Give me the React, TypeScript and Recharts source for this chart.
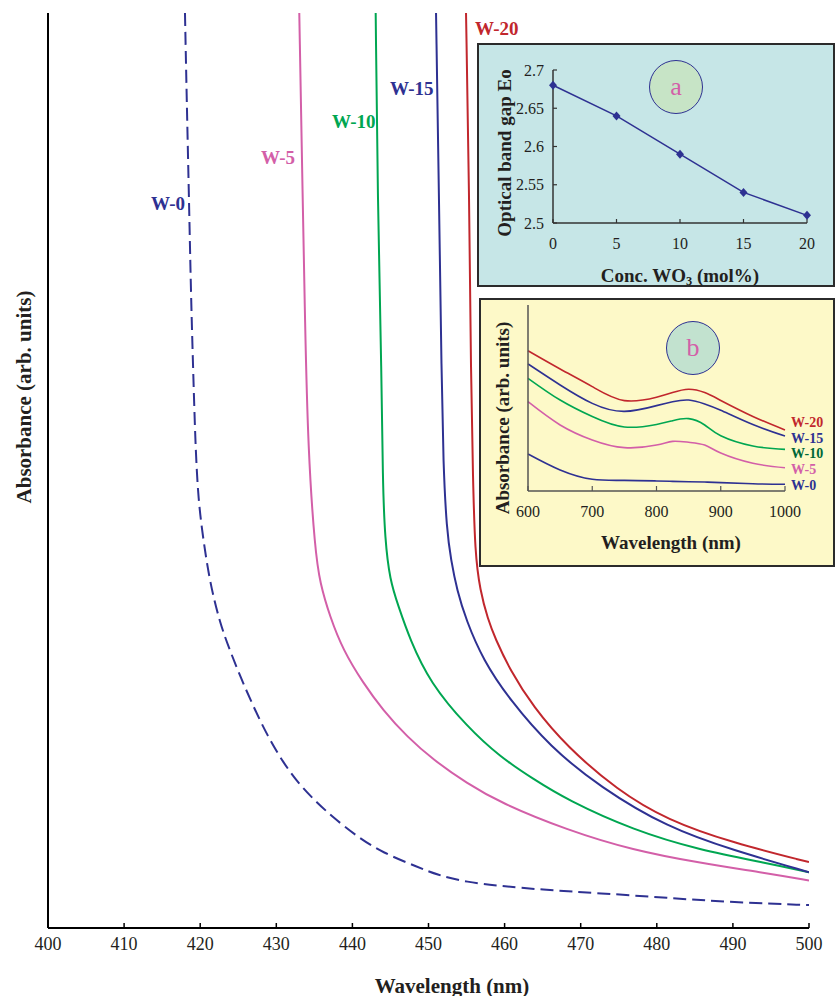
import { LineChart, Line, XAxis, YAxis } from "recharts";
import type { ReactNode } from "react";

const SERIF = "'Liberation Serif', 'Times New Roman', Times, serif";
const NAVY = "#2e3192";
const PINK = "#d35fa8";
const GREEN = "#00a651";
const DARK_GREEN = "#006838";
const RED = "#c1272d";
const INK = "#231f20";

// main panel: absorption edge, wavelength (nm) vs absorbance (arb. units)
const w0Wl = [418.0, 418.23, 418.53, 418.79, 419.19, 419.41, 419.75, 420.41, 421.29, 422.6, 423.92, 425.36, 426.94, 428.78, 430.88, 433.11, 435.35, 437.45, 440.6, 444.02, 448.49, 451.12, 455.06, 459.4, 464.65, 472.54, 481.34, 490.01, 500];
const w0Abs = [100, 90.5, 79.6, 69.0, 57.7, 52.2, 46.8, 42.4, 37.7, 33.3, 30.3, 27.3, 24.3, 21.1, 18.1, 15.6, 13.7, 12.1, 10.0, 8.2, 6.7, 5.8, 5.0, 4.6, 4.2, 3.8, 3.3, 2.8, 2.5];

const w5Wl = [433.02, 433.47, 433.77, 434.17, 435.09, 435.74, 437.06, 438.76, 441.39, 444.02, 447.18, 450.59, 455.06, 459.4, 468.2, 476.87, 485.68, 494.48, 500];
const w5Abs = [100, 79.6, 66.4, 52.2, 41.3, 37.7, 34.0, 30.4, 26.8, 23.8, 20.9, 18.4, 15.8, 13.7, 10.7, 8.5, 7.1, 6.0, 5.2];

const w10Wl = [443.06, 443.32, 443.85, 443.98, 444.28, 444.94, 445.99, 447.57, 450.2, 455.06, 459.4, 463.73, 468.2, 476.87, 485.68, 494.48, 500];
const w10Abs = [100, 79.6, 59.9, 49.0, 42.4, 38.0, 35.3, 31.5, 26.8, 22.0, 18.7, 16.3, 14.0, 10.7, 8.5, 7.1, 6.1];

const w15Wl = [450.99, 451.38, 451.73, 451.94, 452.39, 452.96, 453.75, 454.93, 457.16, 460.71, 465.97, 472.54, 481.34, 490.01, 500];
const w15Abs = [100, 79.6, 59.9, 50.8, 43.5, 40.2, 36.9, 33.7, 29.3, 24.9, 19.8, 15.4, 11.0, 8.5, 6.1];

const w20Wl = [454.93, 455.36, 455.58, 455.85, 456.11, 456.77, 457.82, 458.74, 460.71, 463.73, 468.2, 474.77, 481.34, 490.01, 500];
const w20Abs = [100, 79.6, 59.9, 49.0, 41.0, 36.9, 33.7, 31.7, 28.2, 24.2, 19.8, 15.1, 11.8, 9.3, 7.2];

const mainTicks = [400, 410, 420, 430, 440, 450, 460, 470, 480, 490, 500];

// inset a: band gap vs WO3 content
const concWO3 = [0, 5, 10, 15, 20];
const bandGap = [2.68, 2.64, 2.59, 2.54, 2.51];
const gapTicks = [2.5, 2.55, 2.6, 2.65, 2.7];

// inset b: visible range absorbance
const visWl = [600, 650, 700, 750, 800, 825, 850, 875, 900, 950, 1000];
const visW0 = [19.9, 11.3, 6.3, 5.7, 5.4, 5.2, 5.0, 4.8, 4.5, 3.9, 3.6];
const visW5 = [48.0, 35.5, 27.4, 23.3, 24.7, 26.7, 26.2, 24.7, 20.4, 14.9, 12.5];
const visW10 = [60.6, 48.9, 40.0, 34.4, 35.8, 37.8, 38.9, 35.5, 29.7, 24.2, 22.4];
const visW15 = [68.3, 57.0, 47.1, 42.8, 45.9, 48.0, 48.9, 46.8, 43.4, 35.7, 29.6];
const visW20 = [75.4, 65.6, 56.1, 48.6, 50.4, 52.9, 54.7, 52.9, 48.7, 40.1, 32.8];
const visTicks = [600, 700, 800, 900, 1000];

const toPoints = (xs: number[], ys: number[]) => xs.map((x, i) => ({ x, y: ys[i] }));

const mainSeries = [
  { name: "W-0", data: toPoints(w0Wl, w0Abs), color: NAVY, dash: "13 6" },
  { name: "W-5", data: toPoints(w5Wl, w5Abs), color: PINK },
  { name: "W-10", data: toPoints(w10Wl, w10Abs), color: GREEN },
  { name: "W-15", data: toPoints(w15Wl, w15Abs), color: NAVY },
  { name: "W-20", data: toPoints(w20Wl, w20Abs), color: RED },
];

const gapData = concWO3.map((c, i) => ({ c, eg: bandGap[i] }));

const visData = visWl.map((wl, i) => ({
  wl,
  w0: visW0[i],
  w5: visW5[i],
  w10: visW10[i],
  w15: visW15[i],
  w20: visW20[i],
}));

const visSeries = [
  { key: "w0", color: NAVY },
  { key: "w5", color: PINK },
  { key: "w10", color: GREEN },
  { key: "w15", color: NAVY },
  { key: "w20", color: RED },
];

function Txt({
  x,
  y,
  size,
  color = INK,
  bold = true,
  rotate = false,
  align = "middle",
  children,
}: {
  x: number;
  y: number;
  size: number;
  color?: string;
  bold?: boolean;
  rotate?: boolean;
  align?: "start" | "middle";
  children: ReactNode;
}) {
  const tx = align === "middle" ? "-50%" : "0";
  return (
    <div
      style={{
        position: "absolute",
        left: x,
        top: y,
        transform: `translate(${tx}, -50%)${rotate ? " rotate(-90deg)" : ""}`,
        fontFamily: SERIF,
        fontSize: size,
        fontWeight: bold ? "bold" : "normal",
        color,
        lineHeight: 1,
        whiteSpace: "nowrap",
      }}
    >
      {children}
    </div>
  );
}

function Badge({ x, y, letter, fill }: { x: number; y: number; letter: string; fill: string }) {
  return (
    <div
      style={{
        position: "absolute",
        left: x - 27,
        top: y - 27,
        width: 54,
        height: 54,
        boxSizing: "border-box",
        borderRadius: "50%",
        border: `1.5px solid ${NAVY}`,
        background: fill,
        display: "flex",
        alignItems: "center",
        justifyContent: "center",
        fontFamily: SERIF,
        fontSize: 26,
        color: PINK,
        lineHeight: 1,
      }}
    >
      {letter}
    </div>
  );
}

const Diamond = (props: any) => {
  const { cx, cy, index } = props;
  return (
    <path
      key={index}
      d={`M${cx},${cy - 4.5}L${cx + 4},${cy}L${cx},${cy + 4.5}L${cx - 4},${cy}Z`}
      fill={NAVY}
    />
  );
};

export default function App() {
  const tickFont = { fill: INK, fontFamily: SERIF };
  return (
    <div style={{ position: "absolute", left: 0, top: 0, width: 837, height: 996, background: "#fff", overflow: "hidden" }}>
      {/* main panel */}
      <div style={{ position: "absolute", left: 0, top: 0 }}>
        <LineChart width={837} height={996} margin={{ top: 13, right: 28, left: 0, bottom: 0 }}>
          <XAxis
            type="number"
            dataKey="x"
            domain={[400, 500]}
            ticks={mainTicks}
            interval={0}
            allowDataOverflow
            height={68}
            tickSize={-5}
            tickMargin={14}
            axisLine={{ stroke: "#000", strokeWidth: 2 }}
            tickLine={{ stroke: "#000", strokeWidth: 1.5 }}
            tick={{ ...tickFont, fontSize: 18 }}
          />
          <YAxis
            type="number"
            dataKey="y"
            domain={[0, 100]}
            allowDataOverflow
            width={48}
            tick={false}
            tickLine={false}
            axisLine={{ stroke: "#000", strokeWidth: 2 }}
          />
          {mainSeries.map((s) => (
            <Line
              key={s.name}
              data={s.data}
              dataKey="y"
              type="basis"
              stroke={s.color}
              strokeWidth={2}
              strokeDasharray={s.dash}
              dot={false}
              activeDot={false}
              isAnimationActive={false}
            />
          ))}
        </LineChart>
      </div>

      <Txt x={24} y={397} size={21} rotate>
        Absorbance (arb. units)
      </Txt>
      <Txt x={452} y={986} size={21}>
        Wavelength (nm)
      </Txt>

      <Txt x={475} y={28} size={19} color={RED} align="start">W-20</Txt>
      <Txt x={390} y={88} size={19} color={NAVY} align="start">W-15</Txt>
      <Txt x={332} y={121} size={19} color={GREEN} align="start">W-10</Txt>
      <Txt x={261} y={157} size={19} color={PINK} align="start">W-5</Txt>
      <Txt x={151} y={203} size={19} color={NAVY} align="start">W-0</Txt>

      {/* inset a */}
      <div
        style={{
          position: "absolute",
          left: 477,
          top: 43,
          width: 358,
          height: 244,
          boxSizing: "border-box",
          background: "#c6e6e7",
          border: "2px solid #2b2b2b",
        }}
      />
      <div style={{ position: "absolute", left: 477, top: 43 }}>
        <LineChart width={358} height={244} data={gapData} margin={{ top: 27, right: 28, left: 0, bottom: 0 }}>
          <XAxis
            type="number"
            dataKey="c"
            domain={[0, 20]}
            ticks={concWO3}
            interval={0}
            height={64}
            tickSize={-4}
            tickMargin={19}
            axisLine={{ stroke: "#333", strokeWidth: 1.5 }}
            tickLine={{ stroke: "#333", strokeWidth: 1.2 }}
            tick={{ ...tickFont, fontSize: 16 }}
          />
          <YAxis
            type="number"
            domain={[2.5, 2.7]}
            ticks={gapTicks}
            interval={0}
            width={76}
            tickSize={-4}
            tickMargin={13}
            axisLine={{ stroke: "#333", strokeWidth: 1.5 }}
            tickLine={{ stroke: "#333", strokeWidth: 1.2 }}
            tick={{ ...tickFont, fontSize: 16 }}
          />
          <Line
            dataKey="eg"
            type="linear"
            stroke={NAVY}
            strokeWidth={1.5}
            dot={Diamond}
            activeDot={false}
            isAnimationActive={false}
          />
        </LineChart>
      </div>
      <Badge x={676} y={87} letter="a" fill="#c7e4c6" />
      <Txt x={504} y={153} size={19} rotate>
        Optical band gap Eo
      </Txt>
      <Txt x={680} y={275} size={19}>
        Conc. WO<sub style={{ fontSize: "0.65em", verticalAlign: "-0.25em", lineHeight: 0 }}>3</sub> (mol%)
      </Txt>

      {/* inset b */}
      <div
        style={{
          position: "absolute",
          left: 479,
          top: 298,
          width: 356,
          height: 269,
          boxSizing: "border-box",
          background: "#fdf9c8",
          border: "2px solid #2b2b2b",
        }}
      />
      <div style={{ position: "absolute", left: 479, top: 298 }}>
        <LineChart width={356} height={269} data={visData} margin={{ top: 7, right: 50, left: 0, bottom: 0 }}>
          <XAxis
            type="number"
            dataKey="wl"
            domain={[600, 1000]}
            ticks={visTicks}
            interval={0}
            height={76}
            tickSize={-5}
            tickMargin={20}
            axisLine={{ stroke: "#555", strokeWidth: 1.5 }}
            tickLine={{ stroke: "#555", strokeWidth: 1.2 }}
            tick={{ ...tickFont, fontSize: 16 }}
          />
          <YAxis
            type="number"
            domain={[0, 100]}
            width={49}
            tick={false}
            tickLine={false}
            axisLine={{ stroke: "#555", strokeWidth: 1.5 }}
          />
          {visSeries.map((s) => (
            <Line
              key={s.key}
              dataKey={s.key}
              type="natural"
              stroke={s.color}
              strokeWidth={1.6}
              dot={false}
              activeDot={false}
              isAnimationActive={false}
            />
          ))}
        </LineChart>
      </div>
      <Badge x={693} y={348} letter="b" fill="#c2e2cf" />
      <Txt x={502} y={418} size={19} rotate>
        Absorbance (arb. units)
      </Txt>
      <Txt x={671} y={542} size={19}>
        Wavelength (nm)
      </Txt>
      <Txt x={791} y={423} size={14} color={RED} align="start">W-20</Txt>
      <Txt x={791} y={439} size={14} color={NAVY} align="start">W-15</Txt>
      <Txt x={791} y={454} size={14} color={DARK_GREEN} align="start">W-10</Txt>
      <Txt x={791} y={470} size={14} color={PINK} align="start">W-5</Txt>
      <Txt x={791} y={486} size={14} color={NAVY} align="start">W-0</Txt>
    </div>
  );
}
